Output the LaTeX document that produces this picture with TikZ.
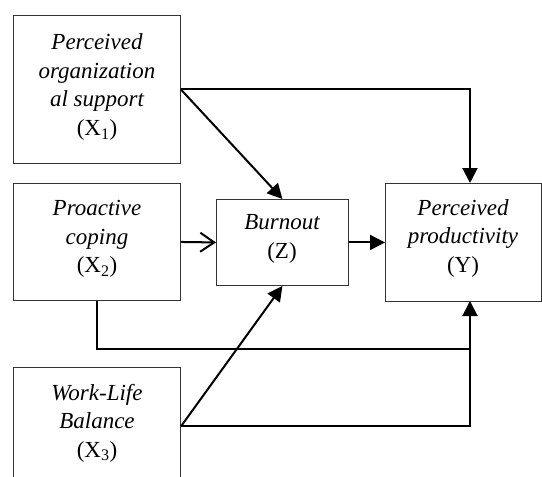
\documentclass[tikz,border=0pt]{standalone}
\usepackage{fontspec}
\setmainfont{Liberation Serif}
\usetikzlibrary{arrows.meta}
\begin{document}
\begin{tikzpicture}[x=1pt,y=-1pt,
  boxst/.style={draw=black!80,line width=0.9pt,inner sep=0pt,anchor=north west},
  txt/.style={align=center,font=\fontsize{23}{28.5}\selectfont,inner sep=0pt},
  conn/.style={draw=black,line width=2pt},
  farrow/.style={conn,-{Triangle[length=15pt,width=15pt]}},
  oarrow/.style={conn,-{Straight Barb[length=14pt,width=19pt,line width=2pt]}}]
\useasboundingbox (0,0) rectangle (542,477);
\begin{scope}
\clip (0,0) rectangle (542,477);
\node[boxst,minimum width=167pt,minimum height=148pt] (X1) at (13,15) {};
\node[boxst,minimum width=167pt,minimum height=117pt] (X2) at (13,183) {};
\node[boxst,minimum width=167pt,minimum height=118pt] (X3) at (13,367) {};
\node[boxst,minimum width=132pt,minimum height=86pt] (Z) at (216,199) {};
\node[boxst,minimum width=156pt,minimum height=118pt] (Y) at (385,183) {};
\end{scope}
\node[txt] (tX1) at (97,87) {\itshape Perceived\\ \itshape organization\\ \itshape al support\\ (X\textsubscript{1})};
\node[txt] (tX2) at (97,239) {\itshape Proactive\\ \itshape coping\\ (X\textsubscript{2})};
\node[txt] (tX3) at (97,423) {\itshape Work-Life\\ \itshape Balance\\ (X\textsubscript{3})};
\node[txt] (tZ) at (282,239) {\itshape Burnout\\ (Z)};
\node[txt] (tY) at (463,238) {\itshape Perceived\\ \itshape productivity\\ (Y)};
\coordinate (ytop) at (470,183);
\coordinate (ybot) at (470,301);
\coordinate (jn) at (470,349);
\draw[farrow] (X1.east) -| (ytop);
\draw[farrow] (X1.east) -- (Z.north);
\draw[oarrow] (X2.east) -- (Z.west);
\draw[farrow] (Z.east) -- (Y.west);
\draw[conn] (X2.south) |- (jn);
\draw[farrow] (X3.east) -- (Z.south);
\draw[farrow] (X3.east) -| (ybot);
\end{tikzpicture}
\end{document}
